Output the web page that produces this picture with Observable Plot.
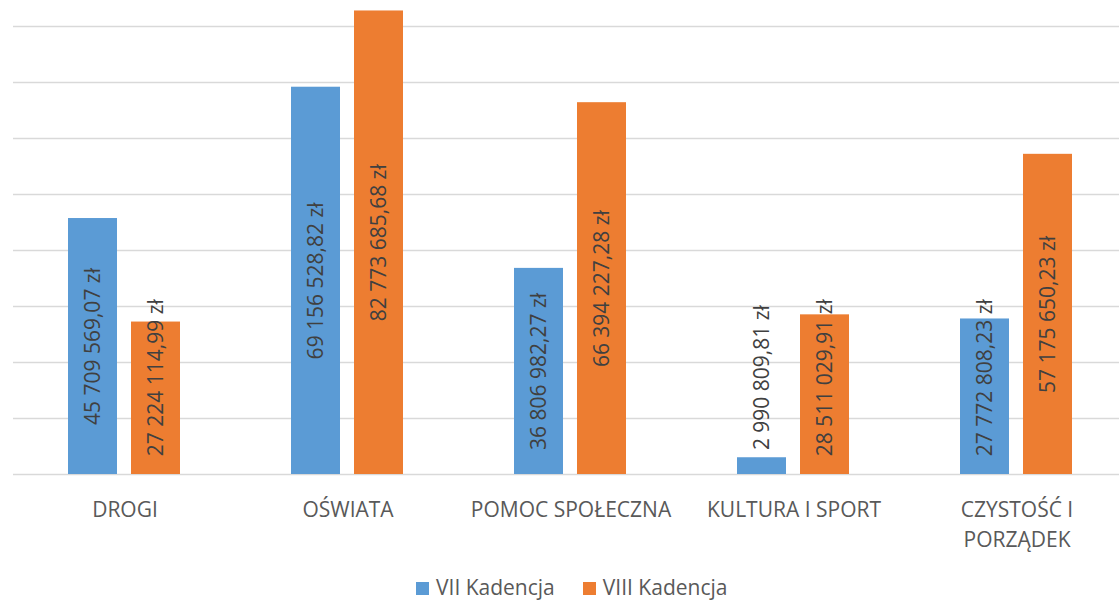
<!DOCTYPE html>
<html>
<head>
<meta charset="utf-8">
<script src="https://cdn.jsdelivr.net/npm/d3@7"></script>
<script src="https://cdn.jsdelivr.net/npm/@observablehq/plot@0.6"></script>
<style>
  html, body { margin: 0; padding: 0; background: #fff; }
  body { width: 1119px; height: 602px; position: relative; overflow: hidden; font-family: "Open Sans", sans-serif; }
  #legend { position: absolute; top: 575px; left: 416px; display: flex; align-items: center; font-size: 21px; line-height: 25px; color: #595959; }
  #legend .item { display: flex; align-items: center; margin-right: 28px; }
  #legend .sw { width: 13px; height: 13px; margin-right: 7px; margin-top: 2px; }
</style>
</head>
<body>
<div id="chart"></div>
<div id="legend"></div>
<script>
const categories = ["DROGI", "OŚWIATA", "POMOC SPOŁECZNA", "KULTURA I SPORT", "CZYSTOŚĆ I\nPORZĄDEK"];
const seriesNames = ["VII Kadencja", "VIII Kadencja"];
const seriesColors = ["#5b9bd5", "#ed7d31"];
const viiValues = [45709569.07, 69156528.82, 36806982.27, 2990809.81, 27772808.23];
const viiiValues = [27224114.99, 82773685.68, 66394227.28, 28511029.91, 57175650.23];
const gridTicks = [0, 10e6, 20e6, 30e6, 40e6, 50e6, 60e6, 70e6, 80e6];

const rows = [];
categories.forEach((c, i) => {
  rows.push({category: c, series: seriesNames[0], value: viiValues[i]});
  rows.push({category: c, series: seriesNames[1], value: viiiValues[i]});
});

function fmt(v) {
  const [i, f] = v.toFixed(2).split(".");
  return i.replace(/\B(?=(\d{3})+(?!\d))/g, " ") + "," + f + " zł";
}

const labelMinCenter = 17.3e6;

const chart = Plot.plot({
  width: 1119,
  height: 560,
  marginLeft: 11,
  marginRight: 0,
  marginTop: 26,
  marginBottom: 86,
  style: {fontFamily: "Open Sans, sans-serif", background: "transparent"},
  fx: {domain: categories, range: [11, 1130], padding: 0, axis: null},
  x: {domain: seriesNames, paddingInner: 0.21875, paddingOuter: 0.857, axis: null},
  y: {domain: [0, 80e6], axis: null},
  color: {domain: seriesNames, range: seriesColors},
  marks: [
    Plot.ruleY(gridTicks, {stroke: "#d9d9d9", strokeWidth: 1.5}),
    Plot.barY(rows, {fx: "category", x: "series", y: "value", fill: "series"}),
    Plot.text(rows, {
      fx: "category", x: "series",
      y: d => Math.max(d.value / 2, labelMinCenter),
      text: d => fmt(d.value),
      rotate: -90, textAnchor: "middle",
      fontSize: 21, fill: "#404040"
    }),
    Plot.text(categories, {
      fx: d => d,
      text: d => d,
      frameAnchor: "bottom",
      lineAnchor: "top",
      dy: 21,
      lineHeight: 1.43,
      fontSize: 21,
      fill: "#595959"
    })
  ]
});
document.getElementById("chart").appendChild(chart);

const legend = document.getElementById("legend");
seriesNames.forEach((s, i) => {
  const item = document.createElement("div");
  item.className = "item";
  const sw = document.createElement("span");
  sw.className = "sw";
  sw.style.background = seriesColors[i];
  const t = document.createElement("span");
  t.textContent = s;
  item.appendChild(sw);
  item.appendChild(t);
  legend.appendChild(item);
});
</script>
</body>
</html>
